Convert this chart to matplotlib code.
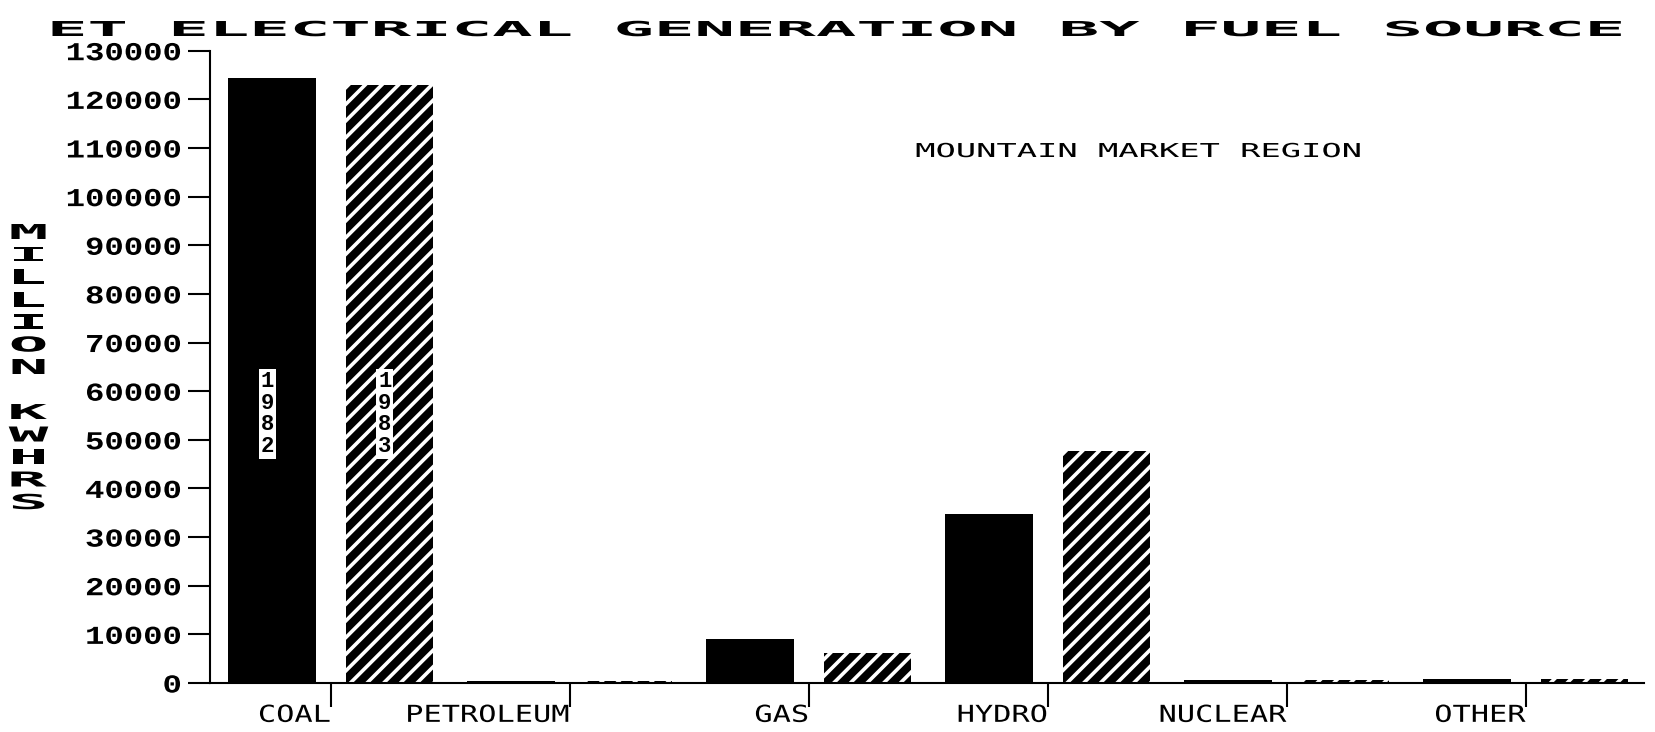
import numpy as np
import matplotlib
matplotlib.use("Agg")
import matplotlib.pyplot as plt
from matplotlib.patheffects import AbstractPathEffect
from matplotlib.transforms import Affine2D

fuels = ["COAL", "PETROLEUM", "GAS", "HYDRO", "NUCLEAR", "OTHER"]
years = ["1982", "1983"]
gen_1982 = [124400, 450, 9100, 34700, 700, 800]
gen_1983 = [122900, 500, 6200, 47600, 600, 900]
y_ticks = list(range(0, 130001, 10000))

title = "ET ELECTRICAL GENERATION BY FUEL SOURCE"
subtitle = "MOUNTAIN MARKET REGION"
ylabel = "MILLION KWHRS"


class Stretch(AbstractPathEffect):
    # the old plotter font is much wider than anything installed,
    # so widen the glyph outlines sideways
    def __init__(self, sx, anchor="center"):
        super().__init__()
        self.sx = sx
        self.anchor = anchor

    def draw_path(self, renderer, gc, tpath, affine, rgbFace=None):
        ext = tpath.get_extents()
        if self.anchor == "left":
            x0 = ext.x0
        elif self.anchor == "right":
            x0 = ext.x1
        else:
            x0 = (ext.x0 + ext.x1) / 2
        if not np.isfinite(x0):
            x0 = 0
        st = Affine2D().translate(-x0, 0).scale(self.sx, 1).translate(x0, 0)
        renderer.draw_path(gc, tpath, st + affine, rgbFace)


plt.rcParams['hatch.linewidth'] = 2.6
W, H = 1655, 732
fig = plt.figure(figsize=(W / 100, H / 100), dpi=100)
ax = fig.add_axes([210 / W, (H - 683) / H, (1644 - 210) / W, (683 - 50.7) / H])

x = np.arange(len(fuels))
w = 0.368
off = 0.245
ax.bar(x - off, gen_1982, w, color="black", linewidth=0)
ax.bar(x + off, gen_1983, w, color="black", edgecolor="white", hatch="//", linewidth=0)

# year tags stacked inside the coal bars
for i, yr in enumerate(years):
    ax.text(x[0] + (i * 2 - 1) * off - 0.02, 55300, "\n".join(yr), ha="center", va="center",
            family="Liberation Mono", fontweight="bold", fontsize=16, linespacing=1.05,
            bbox=dict(facecolor="white", edgecolor="none", pad=1.5))

ax.set_xlim(-0.506, 5.494)
ax.set_ylim(0, 130000)
ax.spines["top"].set_visible(False)
ax.spines["right"].set_visible(False)
ax.spines["left"].set_linewidth(1.5)
ax.spines["bottom"].set_linewidth(1.5)

ax.set_yticks(y_ticks)
ax.set_yticklabels([str(v) for v in y_ticks], family="Liberation Mono",
                   fontweight="bold", fontsize=18.6)
ax.tick_params(axis="y", length=16, width=1.5, pad=4.5)
for lab in ax.get_yticklabels():
    lab.set_path_effects([Stretch(1.25, "right")])

ax.set_xticks(x)
ax.set_xticklabels(fuels, family="DejaVu Sans Mono", fontsize=16.8, ha="right")
ax.tick_params(axis="x", length=17, width=1.5, pad=-2)
for lab in ax.get_xticklabels():
    lab.set_path_effects([Stretch(1.3, "right")])

t = fig.text(836.5 / W, 1 - 36 / H, title, ha="center", va="baseline",
             family="DejaVu Sans Mono", fontweight="bold", fontsize=14.8)
t.set_path_effects([Stretch(3.27)])

t = fig.text(1138 / W, 1 - 157 / H, subtitle, ha="center", va="baseline",
             family="DejaVu Sans Mono", fontsize=13.8)
t.set_path_effects([Stretch(1.76)])

for i, ch in enumerate(ylabel):
    t = fig.text(28.5 / W, 1 - (239 + i * 22.5) / H, ch, ha="center", va="baseline",
                 family="DejaVu Sans Mono", fontweight="bold", fontsize=14.8)
    t.set_path_effects([Stretch(3.2)])

fig.savefig("out.png", dpi=100)
